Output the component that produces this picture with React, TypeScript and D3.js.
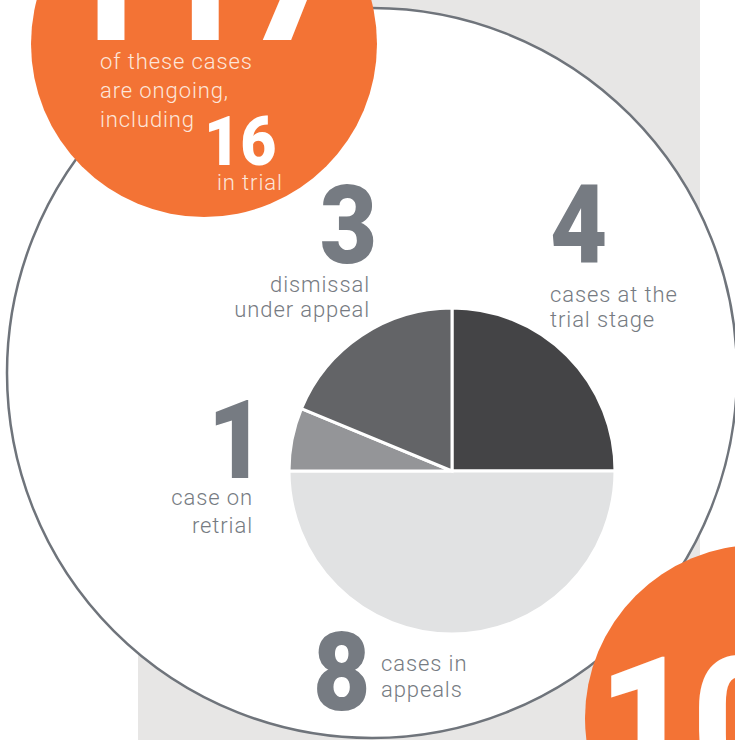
import React from "react";
import * as d3 from "d3";

const categories = ["cases at the trial stage", "cases in appeals", "case on retrial", "dismissal under appeal"];
const values = [4, 8, 1, 3];
const sliceColors = ["#444446", "#e1e2e3", "#949598", "#636467"];
const totalCases = "117";
const inTrial = "16";
const nextNumber = "10";

const W = 735;
const H = 740;
const ORANGE = "#f37335";
const GRAY_TEXT = "#767b82";
const NUM_FONT = "Roboto, 'DejaVu Sans', sans-serif";
const LIGHT_FONT = "Roboto, 'DejaVu Sans', sans-serif";
const LABEL_SIZE = 22;
const LABEL_SPACING = 0.9;

// label layout (positions only)
const labelLayout = [
  { num: "4", nx: 550, ny: 263, anchor: "start", lines: ["cases at the", "trial stage"], lx: 550, ly: [302, 327] },
  { num: "8", nx: 313, ny: 710, anchor: "start", lines: ["cases in", "appeals"], lx: 381, ly: [671, 697] },
  { num: "1", nx: 265, ny: 478, anchor: "end", lines: ["case on", "retrial"], lx: 253, ly: [505, 533] },
  { num: "3", nx: 377, ny: 263, anchor: "end", lines: ["dismissal", "under appeal"], lx: 370, ly: [292, 317] },
];

export default function App() {
  const cx = 452;
  const cy = 471;
  const r = 163;
  const pie = d3.pie<number>().sort(null).value((d) => d);
  const arcs = pie(values);
  const arc = d3.arc<d3.PieArcDatum<number>>().innerRadius(0).outerRadius(r);

  return (
    <svg
      width={W}
      height={H}
      viewBox={`0 0 ${W} ${H}`}
      style={{ position: "absolute", left: 0, top: 0, display: "block" }}
    >
      <rect x={0} y={0} width={W} height={H} fill="#ffffff" />
      <rect x={138} y={0} width={562} height={H} fill="#e7e6e5" />
      <circle cx={372} cy={373} r={365} fill="#ffffff" stroke="#6f747b" strokeWidth={2.5} />

      <g transform={`translate(${cx},${cy})`}>
        {arcs.map((a, i) => (
          <path key={categories[i]} d={arc(a) || ""} fill={sliceColors[i]} stroke="#ffffff" strokeWidth={3} strokeLinejoin="miter" />
        ))}
      </g>

      {labelLayout.map((l, i) => (
        <g key={i}>
          <text
            transform={`translate(${l.nx},${l.ny}) scale(0.9,1)`}
            textAnchor={l.anchor as any}
            fontFamily={NUM_FONT}
            fontWeight={900}
            fontSize={110}
            fill={GRAY_TEXT}
          >
            {l.num}
          </text>
          {l.lines.map((t, j) => (
            <text key={j} x={l.lx} y={l.ly[j]} textAnchor={l.anchor as any} fontFamily={LIGHT_FONT} fontWeight={300} fontSize={LABEL_SIZE} fill={GRAY_TEXT} letterSpacing={LABEL_SPACING}>
              {t}
            </text>
          ))}
        </g>
      ))}

      <circle cx={204} cy={44} r={173} fill={ORANGE} />
      <text transform="translate(58,40) scale(0.93,1)" fontFamily={NUM_FONT} fontWeight={900} fontSize={175} fill="#ffffff">
        {totalCases}
      </text>
      {["of these cases", "are ongoing,", "including"].map((t, j) => (
        <text key={j} x={100} y={69 + j * 29} fontFamily={LIGHT_FONT} fontWeight={300} fontSize={LABEL_SIZE} fill="#fde6da" letterSpacing={LABEL_SPACING}>
          {t}
        </text>
      ))}
      <text transform="translate(204,165) scale(0.92,1)" fontFamily={NUM_FONT} fontWeight={900} fontSize={68} fill="#ffffff">
        {inTrial}
      </text>
      <text x={217} y={190} fontFamily={LIGHT_FONT} fontWeight={300} fontSize={LABEL_SIZE} fill="#fde6da" letterSpacing={LABEL_SPACING}>
        in trial
      </text>

      <circle cx={758} cy={718} r={173} fill={ORANGE} />
      <text transform="translate(598,781) scale(0.93,1)" fontFamily={NUM_FONT} fontWeight={900} fontSize={175} fill="#ffffff">
        {nextNumber}
      </text>
    </svg>
  );
}
